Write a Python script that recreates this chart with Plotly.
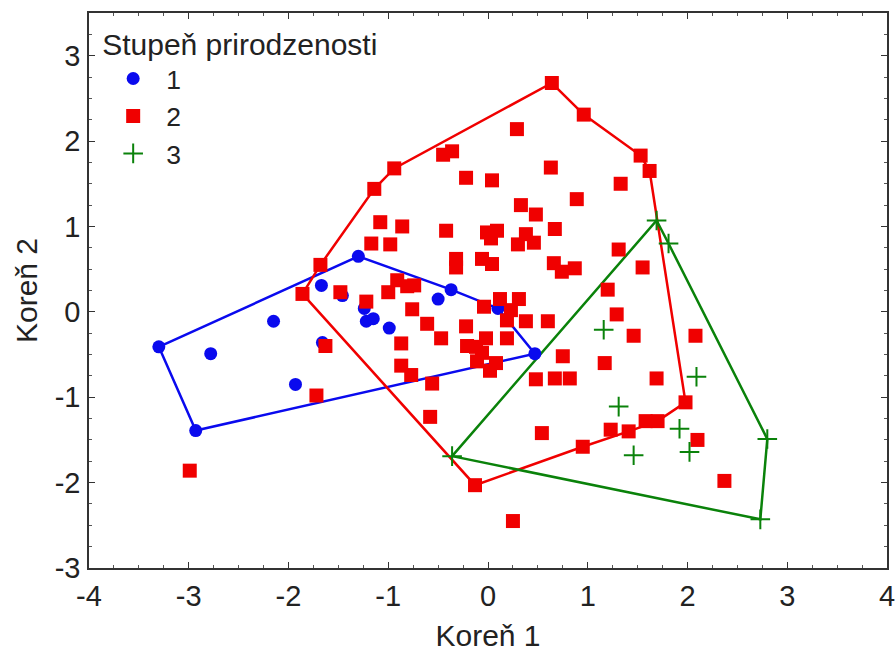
import plotly.graph_objects as go

# ---- data ----
group_names = ["1", "2", "3"]

g1_x = [-3.30, -2.93, -2.78, -2.15, -1.93, -1.67, -1.66, -1.30, -1.46, -1.24,
        -1.22, -1.15, -0.99, -0.50, -0.37, 0.10, 0.47]
g1_y = [-0.41, -1.39, -0.49, -0.11, -0.85, 0.31, -0.36, 0.65, 0.19, 0.04,
        -0.11, -0.08, -0.19, 0.15, 0.26, 0.04, -0.49]
hull1 = [0, 7, 14, 15, 16, 1]

g2_x = [-1.86, -1.68, -1.14, -0.94, -0.45, -0.36, 0.64, 0.96, 1.53, 1.62,
        0.29, -0.22, 0.04, 0.63, 0.89, 1.33, 0.33, 0.48, 0.67, -1.08,
        -0.86, -1.17, -0.98, -0.42, -0.01, 0.09, 0.03, 0.38, 0.30, 0.46,
        -0.32, -0.32, -0.06, 0.04, 0.66, 0.74, 0.87, 1.31, 1.55, 1.20,
        1.29, 1.46, 2.08, 0.75, 1.17, 0.48, 0.67, 0.82, 1.69, 1.98,
        1.70, 1.58, 1.41, 1.23, 0.95, 0.54, 2.10, 2.37, -0.13, 0.25,
        0.12, 0.31, -0.04, 0.23, 0.19, 0.38, 0.60, -0.22, 0.19, -0.02,
        -0.47, -0.21, -0.12, -0.06, -0.11, 0.08, 0.02, -0.61, -0.76, -0.87,
        -0.87, -0.77, -0.56, -0.58, -1.48, -1.22, -1.00, -0.91, -0.81, -0.74,
        -1.63, -1.72, -2.99]
g2_y = [0.21, 0.55, 1.44, 1.68, 1.84, 1.88, 2.68, 2.31, 1.83, 1.65,
        2.14, 1.57, 1.54, 1.69, 1.32, 1.50, 1.25, 1.14, 0.97, 1.05,
        1.00, 0.80, 0.79, 0.95, 0.93, 0.95, 0.86, 0.91, 0.79, 0.81,
        0.62, 0.52, 0.62, 0.56, 0.57, 0.47, 0.51, 0.73, 0.52, 0.26,
        -0.03, -0.28, -0.28, -0.52, -0.60, -0.79, -0.78, -0.78, -0.78, -1.06,
        -1.28, -1.28, -1.40, -1.38, -1.58, -1.42, -1.50, -1.98, -2.03, -2.45,
        0.15, 0.15, 0.06, 0.02, -0.10, -0.11, -0.11, -0.17, -0.31, -0.31,
        -0.31, -0.40, -0.41, -0.48, -0.58, -0.60, -0.69, -0.14, 0.03, -0.37,
        -0.63, -0.74, -0.84, -1.23, 0.23, 0.12, 0.23, 0.37, 0.30, 0.31,
        -0.40, -0.98, -1.86]
hull2 = [0, 1, 2, 3, 6, 7, 8, 9, 49, 50, 52, 54, 58]

g3_x = [-0.36, 1.69, 1.81, 2.80, 2.73, 1.16, 2.09, 1.31, 1.92, 1.46, 2.02]
g3_y = [-1.69, 1.07, 0.80, -1.49, -2.43, -0.21, -0.76, -1.11, -1.37, -1.68, -1.64]
hull3 = [0, 1, 2, 3, 4]

x_ticks = [-4, -3, -2, -1, 0, 1, 2, 3, 4]
x_tick_labels = ["-4", "-3", "-2", "-1", "0", "1", "2", "3", "4"]
y_ticks = [-3, -2, -1, 0, 1, 2, 3]
y_tick_labels = ["-3", "-2", "-1", "0", "1", "2", "3"]

colors = ["#0a0aee", "#f00000", "#0a820a"]
symbols = ["circle", "square", "cross-thin"]
sizes = [13, 14, 14]

groups = [(g1_x, g1_y, hull1), (g2_x, g2_y, hull2), (g3_x, g3_y, hull3)]

FONT = "Liberation Sans, Arial"
fig = go.Figure()

# hull polygons
for (gx, gy, hull), col in zip(groups, colors):
    hx = [gx[i] for i in hull] + [gx[hull[0]]]
    hy = [gy[i] for i in hull] + [gy[hull[0]]]
    fig.add_trace(go.Scatter(x=hx, y=hy, mode="lines",
                             line=dict(color=col, width=2.5),
                             showlegend=False, hoverinfo="skip"))

# points
for (gx, gy, _), name, col, sym, sz in zip(groups, group_names, colors, symbols, sizes):
    marker = dict(color=col, symbol=sym, size=sz)
    if sym == "cross-thin":
        marker["line"] = dict(color=col, width=2)
    fig.add_trace(go.Scatter(x=gx, y=gy, mode="markers", name=name,
                             marker=marker))

axis_common = dict(
    showgrid=False, zeroline=False, showline=True, linecolor="#333333",
    linewidth=1.5, mirror="ticks", ticks="inside", ticklen=6, tickwidth=1,
    tickcolor="#333333", automargin=False,
    tickfont=dict(size=29, color="#222222", family=FONT),
)

fig.update_xaxes(range=[-4, 4], tickvals=x_ticks, ticktext=x_tick_labels,
                 ticklabelstandoff=1,
                 minor=dict(ticks="inside", dtick=0.25, ticklen=3, tickcolor="#555555"),
                 title=dict(text="Koreň 1", standoff=14,
                            font=dict(size=30, color="#222222", family=FONT)),
                 **axis_common)
fig.update_yaxes(range=[-3, 3.5], tickvals=y_ticks, ticktext=y_tick_labels,
                 ticklabelstandoff=1,
                 minor=dict(ticks="inside", dtick=0.25, ticklen=3, tickcolor="#555555"),
                 title=dict(text="Koreň 2", standoff=8,
                            font=dict(size=30, color="#222222", family=FONT)),
                 **axis_common)

fig.update_layout(
    width=896, height=652,
    margin=dict(l=89, r=9, t=13, b=84),
    paper_bgcolor="white", plot_bgcolor="white",
    font=dict(family=FONT, size=28, color="#222222"),
    legend=dict(
        x=0.014, y=0.995, xanchor="left", yanchor="top",
        bgcolor="rgba(0,0,0,0)", borderwidth=0,
        title=dict(text="Stupeň prirodzenosti", font=dict(size=30)),
        font=dict(size=26.5), itemwidth=56, tracegroupgap=0,
    ),
)

# remove the default page margin so the 896x652 figure fills the window exactly
fig.write_html(
    "out.html",
    config=dict(displayModeBar=False),
    post_script="document.body.style.margin='0';document.body.style.overflow='hidden';",
)
